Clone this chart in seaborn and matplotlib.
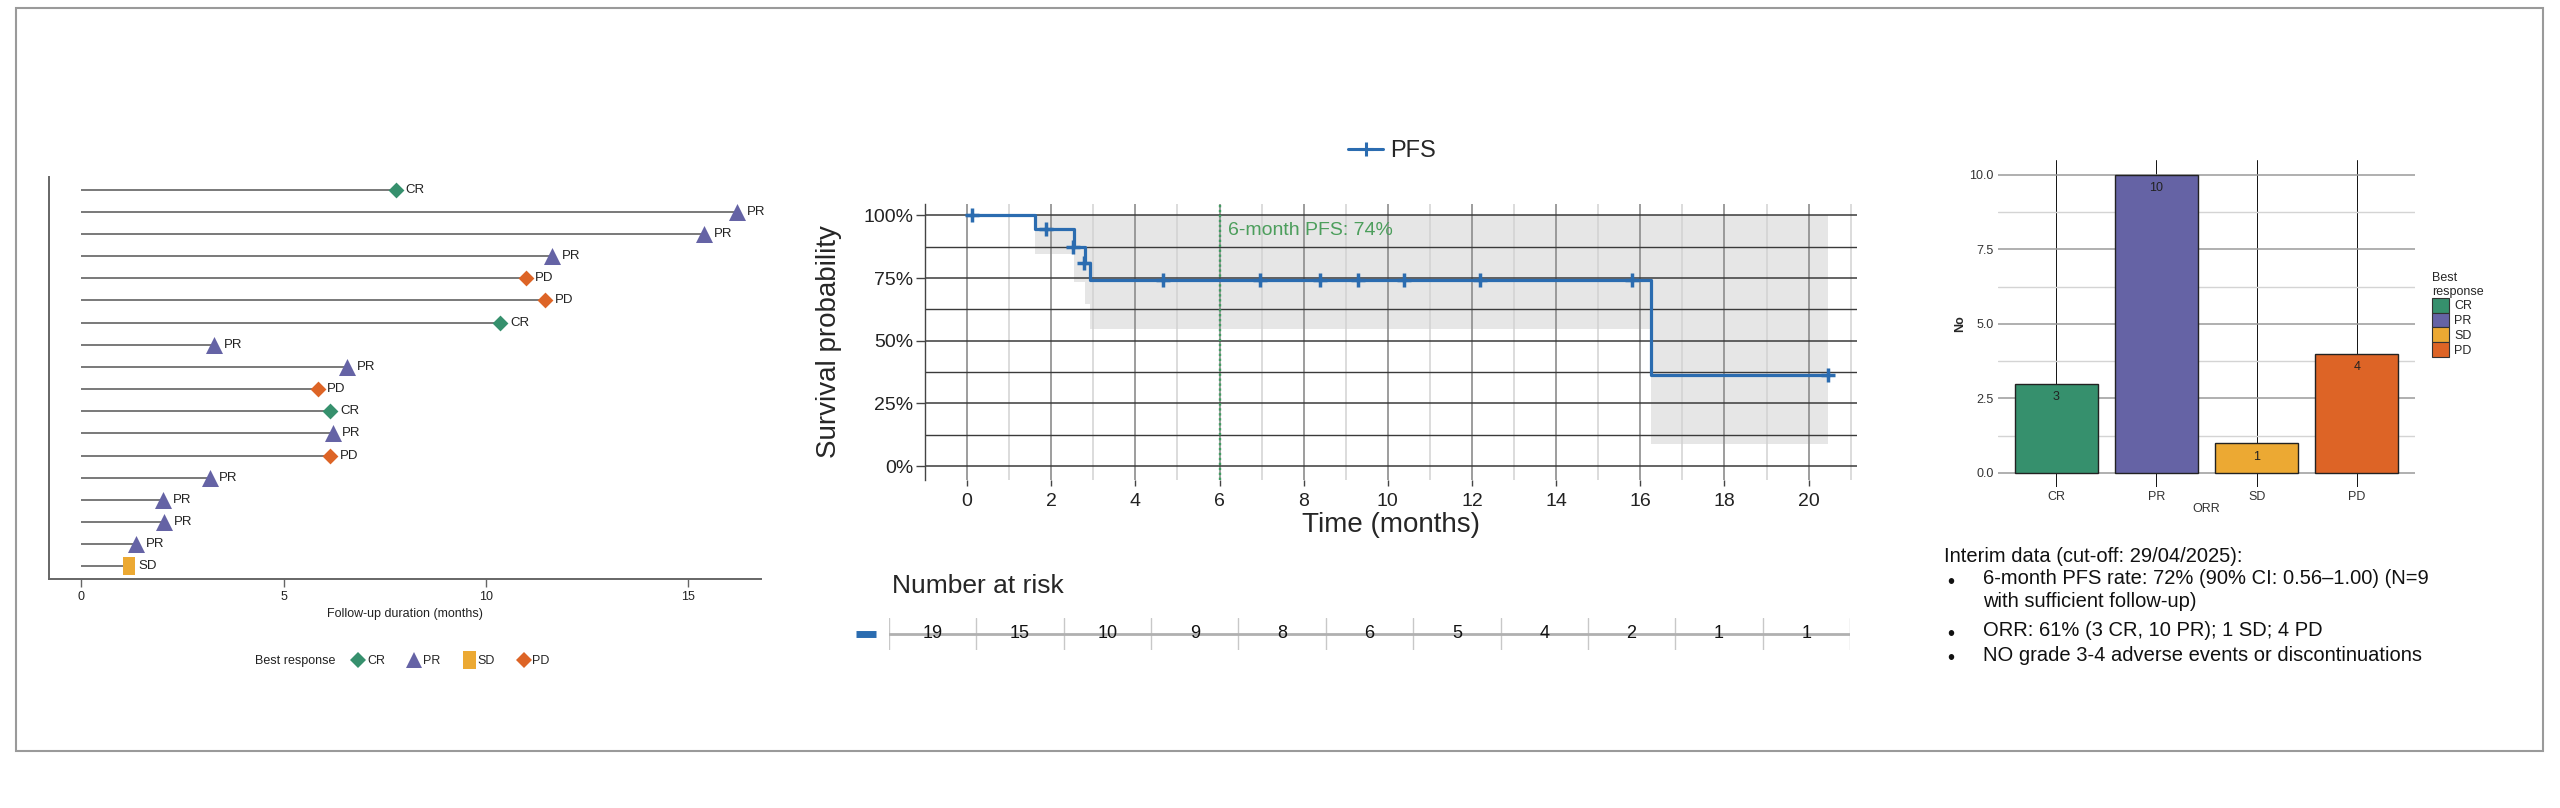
import numpy as np
import pandas as pd
import matplotlib
matplotlib.use("Agg")
import matplotlib.pyplot as plt
from matplotlib.lines import Line2D
from matplotlib.patches import Patch, Rectangle
from matplotlib.ticker import MultipleLocator, PercentFormatter, FormatStrFormatter
import seaborn as sns

# swimmer data, top row first
follow_up = [7.77, 16.2, 15.4, 11.64, 10.98, 11.46, 10.36, 3.29, 6.57,
             5.84, 6.15, 6.21, 6.14, 3.17, 2.02, 2.05, 1.35, 1.17]
best_resp = ["CR", "PR", "PR", "PR", "PD", "PD", "CR", "PR", "PR",
             "PD", "CR", "PR", "PD", "PR", "PR", "PR", "PR", "SD"]

# Kaplan-Meier PFS
km_time = [0, 1.62, 2.55, 2.80, 2.92, 16.26, 20.47]
km_surv = [1.0, 0.944, 0.875, 0.808, 0.743, 0.365, 0.365]
ci_lower = [1.0, 0.844, 0.735, 0.645, 0.546, 0.087, 0.087]
ci_upper = [1.0, 1.0, 1.0, 1.0, 1.0, 1.0, 1.0]
censor_time = [0.11, 1.87, 2.51, 2.78, 4.65, 6.97, 8.38, 9.29, 10.38, 12.19, 15.80, 20.47]
censor_surv = [1.0, 0.944, 0.875, 0.808, 0.743, 0.743, 0.743, 0.743, 0.743, 0.743, 0.743, 0.365]

# number at risk
risk_times = [0, 2, 4, 6, 8, 10, 12, 14, 16, 18, 20]
at_risk = [19, 15, 10, 9, 8, 6, 5, 4, 2, 1, 1]

# best response counts
resp_order = ["CR", "PR", "SD", "PD"]
orr_counts = [3, 10, 1, 4]

notes = ["6-month PFS rate: 72% (90% CI: 0.56\u20131.00) (N=9\nwith sufficient follow-up)",
         "ORR: 61% (3 CR, 10 PR); 1 SD; 4 PD",
         "NO grade 3-4 adverse events or discontinuations"]

sns.set_theme(style="white")
plt.rcParams['font.family'] = ['Liberation Sans', 'DejaVu Sans']

resp_colors = {"CR": "#36906d", "PR": "#6563a5", "SD": "#eca933", "PD": "#dd6426"}
sd_marker = [(-0.36, -0.5), (0.36, -0.5), (0.36, 0.5), (-0.36, 0.5), (-0.36, -0.5)]
resp_markers = {"CR": "D", "PR": "^", "SD": sd_marker, "PD": "D"}
resp_sizes = {"CR": 65, "PR": 150, "SD": 160, "PD": 65}
blue = "#2b6cb0"

W, H = 2560, 808
fig = plt.figure(figsize=(25.6, 8.08), dpi=100)

def box(x0, y0, x1, y1):
    # pixel box -> figure fraction
    return [x0 / W, 1 - y1 / H, (x1 - x0) / W, (y1 - y0) / H]

# ---------- swimmer plot ----------
ax1 = fig.add_axes(box(49, 177, 761, 579))
swim = pd.DataFrame({"row": np.arange(1, len(follow_up) + 1),
                     "months": follow_up, "resp": best_resp})
ax1.hlines(swim["row"], 0, swim["months"], color="#555555", lw=1.1, zorder=1)
for r in resp_order:
    sub = swim[swim["resp"] == r]
    sns.scatterplot(data=sub, x="months", y="row", marker=resp_markers[r],
                    s=resp_sizes[r], color=resp_colors[r], linewidth=0,
                    ax=ax1, zorder=3, legend=False)
for _, row in swim.iterrows():
    ax1.annotate(row["resp"], (row["months"], row["row"]), xytext=(7, 0),
                 textcoords="offset points", va="center", ha="left",
                 fontsize=9.5, color="#222222")
ax1.set_xlim(-0.8, 16.8)
ax1.set_ylim(18.57, 0.43)
ax1.set_xticks([0, 5, 10, 15])
ax1.set_yticks([])
for s in ["top", "right"]:
    ax1.spines[s].set_visible(False)
for s in ["left", "bottom"]:
    ax1.spines[s].set_color("#666666")
    ax1.spines[s].set_linewidth(1.4)
ax1.tick_params(axis="x", length=5.5, width=1, color="#666666", labelsize=9,
                labelcolor="#222222", pad=3, bottom=True)
ax1.set_xlabel("Follow-up duration (months)", fontsize=9, labelpad=4, color="#222222")
ax1.set_ylabel("")

fig.text(255 / W, 1 - 661 / H, "Best response", fontsize=9, va="center", ha="left", color="#222222")
swim_handles = [Line2D([], [], ls="none", marker="D", ms=8, color=resp_colors["CR"], mew=0),
                Line2D([], [], ls="none", marker="^", ms=12, color=resp_colors["PR"], mew=0),
                Line2D([], [], ls="none", marker=sd_marker, ms=13, color=resp_colors["SD"], mew=0),
                Line2D([], [], ls="none", marker="D", ms=8, color=resp_colors["PD"], mew=0)]
fig.legend(swim_handles, resp_order, loc="center left", bbox_to_anchor=(352 / W, 1 - 661 / H),
           ncol=4, frameon=False, fontsize=9, handlelength=1.0, handletextpad=0.2,
           columnspacing=1.8, borderpad=0, borderaxespad=0)

# ---------- Kaplan-Meier ----------
ax2 = fig.add_axes(box(925, 204, 1857, 480))
ax2.fill_between(km_time, ci_lower, ci_upper, step="post", color="#e6e6e6", lw=0, zorder=1)
sns.lineplot(x=km_time, y=km_surv, drawstyle="steps-post", color=blue, lw=2.3,
             ax=ax2, estimator=None, zorder=4)
ax2.plot(censor_time, censor_surv, ls="none", marker="+", ms=10.5, mew=2.5, color=blue, zorder=5)
ax2.axvline(6, color="#3f9d60", ls=(0, (1, 1.1)), lw=1.7, zorder=3)
ax2.text(6.2, 0.94, "6-month PFS: 74%", color="#4c9e5c", fontsize=14, va="center", ha="left")

ax2.set_xlim(-1.0, 21.15)
ax2.set_ylim(-0.055, 1.045)
ax2.set_xticks(risk_times)
ax2.xaxis.set_minor_locator(MultipleLocator(1))
ax2.set_yticks([0, 0.25, 0.5, 0.75, 1.0])
ax2.yaxis.set_minor_locator(MultipleLocator(0.125))
ax2.yaxis.set_major_formatter(PercentFormatter(1.0, decimals=0))
ax2.set_axisbelow("line")
ax2.grid(which="major", axis="y", color="#3a3a3a", lw=1.1)
ax2.grid(which="minor", axis="y", color="#3a3a3a", lw=1.0)
ax2.grid(which="major", axis="x", color="#8c8c8c", lw=1.2)
ax2.grid(which="minor", axis="x", color="#d2d2d2", lw=1.1)
for s in ["top", "right", "bottom"]:
    ax2.spines[s].set_visible(False)
ax2.spines["left"].set_color("#444444")
ax2.spines["left"].set_linewidth(1.0)
ax2.tick_params(which="minor", length=0)
ax2.tick_params(axis="x", which="major", length=4, width=1, color="#444444",
                labelsize=14, labelcolor="#222222", pad=5, bottom=True)
ax2.tick_params(axis="y", which="major", length=6.5, width=1, color="#444444",
                labelsize=14, labelcolor="#222222", pad=2, left=True)
ax2.set_xlabel("Time (months)", fontsize=20, labelpad=2)
ax2.set_ylabel("Survival probability", fontsize=20)
ax2.yaxis.set_label_coords(-0.089, 0.5)

pfs_handle = [Line2D([], [], color=blue, lw=2.2, marker="+", ms=10, mew=2.2)]
fig.legend(pfs_handle, ["PFS"], loc="center", bbox_to_anchor=(1392 / W, 1 - 151 / H),
           frameon=False, fontsize=17, handlelength=1.5, handletextpad=0.3)

# ---------- number at risk ----------
ax3 = fig.add_axes(box(889, 618, 1850, 650))
ax3.set_xlim(-1, 21)
ax3.set_ylim(0, 1)
ax3.set_xticks(np.arange(-1, 22, 2))
ax3.set_yticks([])
ax3.grid(axis="x", color="#c8c8c8", lw=1.0)
ax3.axhline(0.5, color="#b0b0b0", lw=2, zorder=1)
for t, n in zip(risk_times, at_risk):
    ax3.text(t, 0.5, str(n), ha="center", va="center", fontsize=13, color="#111111", zorder=3)
ax3.plot([-1.76, -1.30], [0.5, 0.5], color=blue, lw=5, solid_capstyle="butt", clip_on=False)
for s in ax3.spines.values():
    s.set_visible(False)
ax3.tick_params(length=0, labelbottom=False)
fig.text(892 / W, 1 - 586 / H, "Number at risk", fontsize=19, va="center", ha="left")

# ---------- best response bars ----------
ax4 = fig.add_axes(box(1998, 160, 2415, 487))
bar_df = pd.DataFrame({"resp": resp_order, "n": orr_counts})
sns.barplot(data=bar_df, x="resp", y="n", hue="resp", order=resp_order, hue_order=resp_order,
            palette=resp_colors, width=0.83, edgecolor="#222222", linewidth=1.0,
            ax=ax4, legend=False, saturation=1)
for cont in ax4.containers:
    ax4.bar_label(cont, padding=-14, fontsize=9, color="#222222")
ax4.set_xlim(-0.58, 3.58)
ax4.set_ylim(-0.47, 10.5)
ax4.set_yticks([0, 2.5, 5, 7.5, 10])
ax4.yaxis.set_major_formatter(FormatStrFormatter("%.1f"))
ax4.yaxis.set_minor_locator(MultipleLocator(1.25))
ax4.set_axisbelow(True)
ax4.grid(which="major", axis="y", color="#9a9a9a", lw=1.1)
ax4.grid(which="minor", axis="y", color="#d4d4d4", lw=1.0)
ax4.grid(which="major", axis="x", color="#111111", lw=0.7)
for s in ax4.spines.values():
    s.set_visible(False)
ax4.tick_params(which="both", length=0, labelsize=9, labelcolor="#333333", pad=3)
ax4.set_xlabel("ORR", fontsize=9, labelpad=0, color="#333333")
ax4.set_ylabel("No", fontsize=9, fontweight="bold")
ax4.yaxis.set_label_coords(-0.077, 0.5)

bar_handles = [Patch(facecolor=resp_colors[r], edgecolor="#333333", lw=0.8) for r in resp_order]
fig.legend(bar_handles, resp_order, title="Best\nresponse", loc="upper left",
           bbox_to_anchor=(2432 / W, 1 - 272 / H), frameon=False, fontsize=9, title_fontsize=9,
           handlelength=1.36, handleheight=1.45, labelspacing=0, handletextpad=0.4,
           alignment="left", borderpad=0, borderaxespad=0)

# ---------- notes ----------
fig.text(1944 / W, 1 - 556 / H, "Interim data (cut-off: 29/04/2025):", fontsize=14.5,
         va="center", ha="left", color="#111111")
note_y = [582, 634, 659]
for y, txt in zip(note_y, notes):
    fig.text(1947 / W, 1 - y / H, "\u2022", fontsize=14.5, va="center", ha="left", color="#111111")
    fig.text(1983 / W, 1 - (y - 13) / H, txt, fontsize=14.5, va="top", ha="left",
             color="#111111", linespacing=1.28)

# outer frame
fig.add_artist(Rectangle((16 / W, 1 - 751 / H), 2527 / W, 743 / H, transform=fig.transFigure,
                         fill=False, edgecolor="#9a9a9a", lw=1.5))

fig.savefig("out.png", dpi=100)
